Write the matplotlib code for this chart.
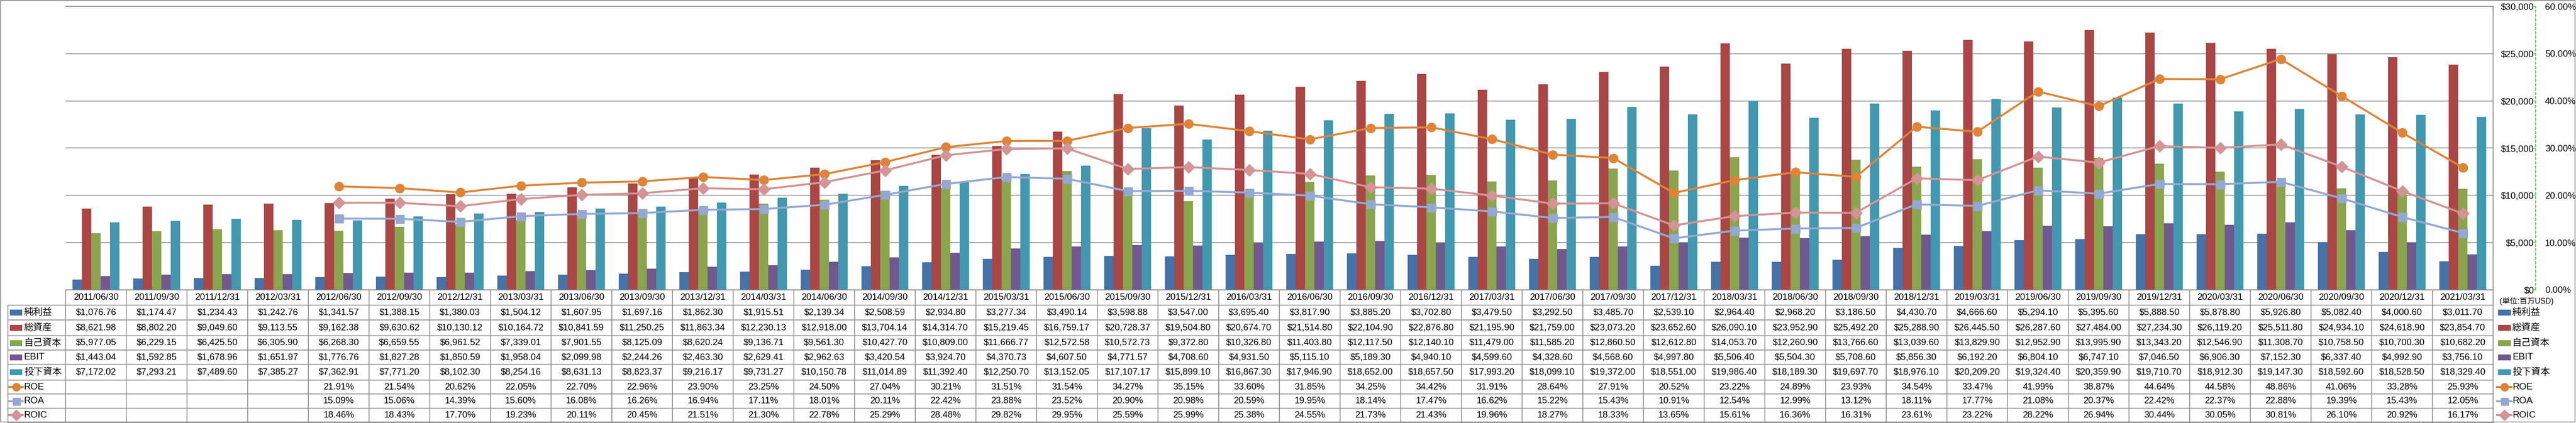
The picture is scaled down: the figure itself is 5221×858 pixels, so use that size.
import numpy as np
import matplotlib
matplotlib.use('Agg')
import matplotlib.pyplot as plt
from matplotlib.patches import Rectangle

# ---------------- data ----------------
dates = ["2011/06/30", "2011/09/30", "2011/12/31", "2012/03/31", "2012/06/30", "2012/09/30",
         "2012/12/31", "2013/03/31", "2013/06/30", "2013/09/30", "2013/12/31", "2014/03/31",
         "2014/06/30", "2014/09/30", "2014/12/31", "2015/03/31", "2015/06/30", "2015/09/30",
         "2015/12/31", "2016/03/31", "2016/06/30", "2016/09/30", "2016/12/31", "2017/03/31",
         "2017/06/30", "2017/09/30", "2017/12/31", "2018/03/31", "2018/06/30", "2018/09/30",
         "2018/12/31", "2019/03/31", "2019/06/30", "2019/09/30", "2019/12/31", "2020/03/31",
         "2020/06/30", "2020/09/30", "2020/12/31", "2021/03/31"]

net_income = [1076.76, 1174.47, 1234.43, 1242.76, 1341.57, 1388.15, 1380.03, 1504.12, 1607.95, 1697.16,
              1862.30, 1915.51, 2139.34, 2508.59, 2934.80, 3277.34, 3490.14, 3598.88, 3547.00, 3695.40,
              3817.90, 3885.20, 3702.80, 3479.50, 3292.50, 3485.70, 2539.10, 2964.40, 2968.20, 3186.50,
              4430.70, 4666.60, 5294.10, 5395.60, 5888.50, 5878.80, 5926.80, 5082.40, 4000.60, 3011.70]

total_assets = [8621.98, 8802.20, 9049.60, 9113.55, 9162.38, 9630.62, 10130.12, 10164.72, 10841.59, 11250.25,
                11863.34, 12230.13, 12918.00, 13704.14, 14314.70, 15219.45, 16759.17, 20728.37, 19504.80, 20674.70,
                21514.80, 22104.90, 22876.80, 21195.90, 21759.00, 23073.20, 23652.60, 26090.10, 23952.90, 25492.20,
                25288.90, 26445.50, 26287.60, 27484.00, 27234.30, 26119.20, 25511.80, 24934.10, 24618.90, 23854.70]

equity = [5977.05, 6229.15, 6425.50, 6305.90, 6268.30, 6659.55, 6961.52, 7339.01, 7901.55, 8125.09,
          8620.24, 9136.71, 9561.30, 10427.70, 10809.00, 11666.77, 12572.58, 10572.73, 9372.80, 10326.80,
          11403.80, 12117.50, 12140.10, 11479.00, 11585.20, 12860.50, 12612.80, 14053.70, 12260.90, 13766.60,
          13039.60, 13829.90, 12952.90, 13995.90, 13343.20, 12546.90, 11308.70, 10758.50, 10700.30, 10682.20]

ebit = [1443.04, 1592.85, 1678.96, 1651.97, 1776.76, 1827.28, 1850.59, 1958.04, 2099.98, 2244.26,
        2463.30, 2629.41, 2962.63, 3420.54, 3924.70, 4370.73, 4607.50, 4771.57, 4708.60, 4931.50,
        5115.10, 5189.30, 4940.10, 4599.60, 4328.60, 4568.60, 4997.80, 5506.40, 5504.30, 5708.60,
        5856.30, 6192.20, 6804.10, 6747.10, 7046.50, 6906.30, 7152.30, 6337.40, 4992.90, 3756.10]

invested_capital = [7172.02, 7293.21, 7489.60, 7385.27, 7362.91, 7771.20, 8102.30, 8254.16, 8631.13, 8823.37,
                    9216.17, 9731.27, 10150.78, 11014.89, 11392.40, 12250.70, 13152.05, 17107.17, 15899.10, 16867.30,
                    17946.90, 18652.00, 18657.50, 17993.20, 18099.10, 19372.00, 18551.00, 19986.40, 18189.30, 19697.70,
                    18976.10, 20209.20, 19324.40, 20359.90, 19710.70, 18912.30, 19147.30, 18592.60, 18528.50, 18329.40]

nan = float('nan')
roe = [nan, nan, nan, nan,
       21.91, 21.54, 20.62, 22.05, 22.70, 22.96, 23.90, 23.25, 24.50, 27.04, 30.21, 31.51, 31.54, 34.27,
       35.15, 33.60, 31.85, 34.25, 34.42, 31.91, 28.64, 27.91, 20.52, 23.22, 24.89, 23.93, 34.54, 33.47,
       41.99, 38.87, 44.64, 44.58, 48.86, 41.06, 33.28, 25.93]

roa = [nan, nan, nan, nan,
       15.09, 15.06, 14.39, 15.60, 16.08, 16.26, 16.94, 17.11, 18.01, 20.11, 22.42, 23.88, 23.52, 20.90,
       20.98, 20.59, 19.95, 18.14, 17.47, 16.62, 15.22, 15.43, 10.91, 12.54, 12.99, 13.12, 18.11, 17.77,
       21.08, 20.37, 22.42, 22.37, 22.88, 19.39, 15.43, 12.05]

roic = [nan, nan, nan, nan,
        18.46, 18.43, 17.70, 19.23, 20.11, 20.45, 21.51, 21.30, 22.78, 25.29, 28.48, 29.82, 29.95, 25.59,
        25.99, 25.38, 24.55, 21.73, 21.43, 19.96, 18.27, 18.33, 13.65, 15.61, 16.36, 16.31, 23.61, 23.22,
        28.22, 26.94, 30.44, 30.05, 30.81, 26.10, 20.92, 16.17]

bar_names = ["純利益", "総資産", "自己資本", "EBIT", "投下資本"]
line_names = ["ROE", "ROA", "ROIC"]
unit_label = "(単位:百万USD)"
usd_ticks = [0, 5000, 10000, 15000, 20000, 25000, 30000]
pct_ticks = [0.0, 0.1, 0.2, 0.3, 0.4, 0.5, 0.6]

# ---------------- style ----------------
bar_colors = ["#4572A7", "#AA4643", "#89A54E", "#71588F", "#4198AF"]
line_colors = ["#DF8437", "#93A9D2", "#D49394"]
line_markers = ["o", "s", "D"]
marker_px = [18, 17, 17]
GRID = "#878787"
GREEN = "#22DD22"

W, H = 5221, 858
DPI = 100


def pt(p):
    return p * 72.0 / DPI


plt.rcParams['font.family'] = ['Liberation Sans', 'Noto Sans CJK JP', 'DejaVu Sans']

fig = plt.figure(figsize=(W / DPI, H / DPI), dpi=DPI, facecolor='white')

# overlay axis in pixel coordinates for the table
tab = fig.add_axes([0, 0, 1, 1])
tab.set_xlim(0, W)
tab.set_ylim(H, 0)
tab.axis('off')
tab.patch.set_visible(False)

L, R, T, B = 133, 5053, 13, 588
ax = fig.add_axes([L / W, 1 - B / H, (R - L) / W, (B - T) / H])
ax2 = ax.twinx()

n = len(dates)
x = np.arange(n)
bar_series = [net_income, total_assets, equity, ebit, invested_capital]
group = 0.77
bw = group / 5
for k, vals in enumerate(bar_series):
    ax.bar(x + (k - 2) * bw, vals, width=bw, color=bar_colors[k], zorder=2, linewidth=0)

ax.set_xlim(-0.5, n - 0.5)
ax.set_ylim(0, 30000)
ax.set_xticks([])
ax.yaxis.tick_right()
ax.set_yticks(usd_ticks)
ax.set_yticklabels([f"${v:,.0f}" for v in usd_ticks], ha='right')
ax.tick_params(axis='y', length=0, pad=pt(83), labelsize=pt(18.5))
ax.grid(axis='y', color=GRID, lw=pt(1.6), zorder=0)
ax.set_axisbelow(True)
ax.spines['left'].set_visible(False)
for s in ['top', 'right', 'bottom']:
    ax.spines[s].set_color(GRID)
    ax.spines[s].set_linewidth(pt(1.6))

for k, vals in enumerate([roe, roa, roic]):
    ax2.plot(x, np.array(vals) / 100.0, color=line_colors[k], lw=pt(4), marker=line_markers[k],
             ms=pt(marker_px[k]), mec=line_colors[k], mfc=line_colors[k], zorder=3)
ax2.set_ylim(0, 0.6)
ax2.set_yticks(pct_ticks)
ax2.set_yticklabels([f"{v * 100:.2f}%" for v in pct_ticks])
for s in ['left', 'top', 'bottom']:
    ax2.spines[s].set_visible(False)
ax2.spines['right'].set_position(('outward', pt(86)))
ax2.spines['right'].set_color(GREEN)
ax2.spines['right'].set_linestyle((0, (3, 2.5)))
ax2.spines['right'].set_linewidth(pt(1.6))
ax2.tick_params(axis='y', direction='in', length=pt(5), width=pt(1.5), color=GREEN,
                pad=pt(19), labelsize=pt(18.5))

# ---------------- table ----------------
cw = (R - L) / n
row_lines = [619.3, 649.3, 680.7, 710.3, 739.3, 770.7, 799.3, 828.3, 856.5]
TL = 16
lw_t = pt(1.6)
tab.plot([L, R], [B, B], color=GRID, lw=lw_t)
for yv in row_lines:
    tab.plot([TL, R], [yv, yv], color=GRID, lw=lw_t)
tab.plot([TL, TL], [row_lines[0], row_lines[-1]], color=GRID, lw=lw_t)
for i in range(n + 1):
    xv = L + cw * i
    tab.plot([xv, xv], [B, row_lines[-1]], color=GRID, lw=lw_t)

FS = pt(18.5)
hdr_y = (B + row_lines[0]) / 2
for i, d in enumerate(dates):
    tab.text(L + cw * (i + 0.5), hdr_y, d, ha='center', va='center', fontsize=FS)

row_centers = [(row_lines[j] + row_lines[j + 1]) / 2 for j in range(8)]
for j, vals in enumerate(bar_series):
    for i, v in enumerate(vals):
        tab.text(L + cw * (i + 0.5), row_centers[j], f"${v:,.2f}", ha='center', va='center', fontsize=FS)
for j, vals in enumerate([roe, roa, roic]):
    for i, v in enumerate(vals):
        if not np.isnan(v):
            tab.text(L + cw * (i + 0.5), row_centers[5 + j], f"{v:.2f}%", ha='center', va='center',
                     fontsize=FS)


def legend_key(x0, x1, tx, j):
    yc = row_centers[j]
    if j < 5:
        tab.add_patch(Rectangle((x0, yc - 6), x1 - x0, 12, color=bar_colors[j], lw=0))
        name = bar_names[j]
    else:
        k = j - 5
        tab.plot([x0 - 2, x1 + 1], [yc, yc], color=line_colors[k], lw=pt(4))
        tab.plot([(x0 + x1) / 2], [yc], marker=line_markers[k], color=line_colors[k],
                 ms=pt(marker_px[k] - 2), mec=line_colors[k])
        name = line_names[k]
    tab.text(tx, yc, name, ha='left', va='center', fontsize=pt(19))


for j in range(8):
    legend_key(20, 45, 49, j)
    legend_key(5063, 5089, 5092, j)

tab.text(5066, 611, unit_label, ha='left', va='center', fontsize=pt(15.5))

# outer border
tab.add_patch(Rectangle((1, 1), W - 3, H - 3, fill=False, ec=GRID, lw=pt(1.6)))

fig.savefig('out.png', dpi=DPI, facecolor='white')
